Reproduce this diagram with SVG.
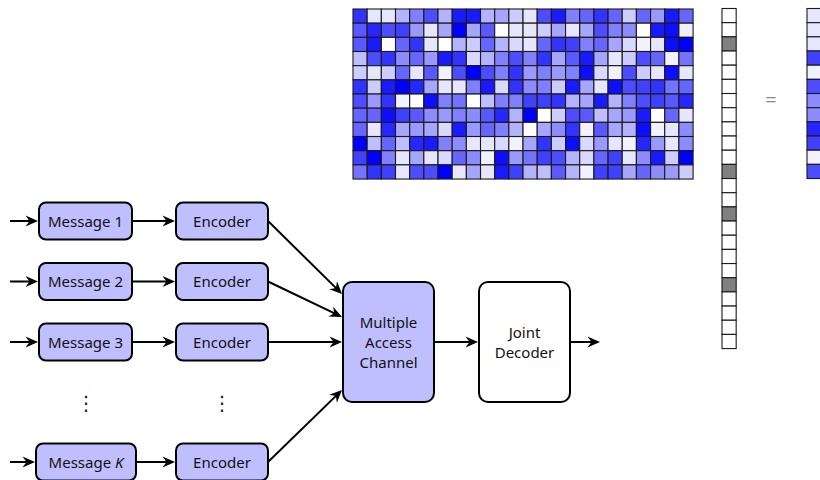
<svg xmlns="http://www.w3.org/2000/svg" width="820" height="480" viewBox="0 0 820 480">
<style>
.c rect{stroke:#1a1a1a;stroke-width:1.1}
.k0{fill:#FFFFFF}.k1{fill:#F2F2FF}.k2{fill:#E6E6FF}.k3{fill:#D9D9FF}.k4{fill:#CCCCFF}.k5{fill:#BFBFFF}.k6{fill:#B3B3FF}.k7{fill:#A6A6FF}.k8{fill:#9999FF}.k9{fill:#8C8CFF}.k10{fill:#8080FF}.k11{fill:#7373FF}.k12{fill:#6666FF}.k13{fill:#5959FF}.k14{fill:#4D4DFF}.k15{fill:#4040FF}.k16{fill:#3333FF}.k17{fill:#2626FF}.k18{fill:#1A1AFF}.k19{fill:#0D0DFF}.k20{fill:#0000FF}
.g{fill:#808080}
.box{fill:#BFBFFF;stroke:#000;stroke-width:2}
.wbox{fill:#FFFFFF;stroke:#000;stroke-width:2}
.t{font-family:"Noto Sans","Liberation Sans",sans-serif;font-size:15px;fill:#111;text-anchor:middle}
.dots{font-family:"Noto Sans CJK SC","DejaVu Sans",sans-serif;font-size:20px;fill:#222;text-anchor:middle}
.eq{font-family:"Noto Sans","Liberation Sans",sans-serif;font-size:20px;fill:#888;text-anchor:middle}
.con line{stroke:#000;stroke-width:2;fill:none;marker-end:url(#ah)}
</style>
<defs>
<marker id="ah" markerUnits="userSpaceOnUse" markerWidth="16" markerHeight="14" viewBox="-14 -7 16 14" refX="-3" refY="0" orient="auto">
<path d="M0,0 L-12.5,-5.5 L-8.5,0 L-12.5,5.5 Z" fill="#000"/>
</marker>
</defs>

<g id="matrix" class="c">
<g transform="translate(353,9)">
<rect x="0" y="0" width="14.17" height="14.17" class="k16"/><rect x="14.17" y="0" width="14.17" height="14.17" class="k2"/><rect x="28.34" y="0" width="14.17" height="14.17" class="k2"/><rect x="42.51" y="0" width="14.17" height="14.17" class="k6"/><rect x="56.68" y="0" width="14.17" height="14.17" class="k10"/><rect x="70.85" y="0" width="14.17" height="14.17" class="k14"/><rect x="85.02" y="0" width="14.17" height="14.17" class="k6"/><rect x="99.19" y="0" width="14.17" height="14.17" class="k18"/><rect x="113.36" y="0" width="14.17" height="14.17" class="k18"/><rect x="127.53" y="0" width="14.17" height="14.17" class="k6"/><rect x="141.7" y="0" width="14.17" height="14.17" class="k7"/><rect x="155.87" y="0" width="14.17" height="14.17" class="k4"/><rect x="170.04" y="0" width="14.17" height="14.17" class="k2"/><rect x="184.21" y="0" width="14.17" height="14.17" class="k14"/><rect x="198.38" y="0" width="14.17" height="14.17" class="k18"/><rect x="212.55" y="0" width="14.17" height="14.17" class="k10"/><rect x="226.72" y="0" width="14.17" height="14.17" class="k12"/><rect x="240.89" y="0" width="14.17" height="14.17" class="k16"/><rect x="255.06" y="0" width="14.17" height="14.17" class="k12"/><rect x="269.23" y="0" width="14.17" height="14.17" class="k4"/><rect x="283.4" y="0" width="14.17" height="14.17" class="k12"/><rect x="297.57" y="0" width="14.17" height="14.17" class="k8"/><rect x="311.74" y="0" width="14.17" height="14.17" class="k18"/><rect x="325.91" y="0" width="14.17" height="14.17" class="k12"/>
</g>
<g transform="translate(353,23.17)">
<rect x="0" y="0" width="14.17" height="14.17" class="k13"/><rect x="14.17" y="0" width="14.17" height="14.17" class="k17"/><rect x="28.34" y="0" width="14.17" height="14.17" class="k14"/><rect x="42.51" y="0" width="14.17" height="14.17" class="k15"/><rect x="56.68" y="0" width="14.17" height="14.17" class="k8"/><rect x="70.85" y="0" width="14.17" height="14.17" class="k2"/><rect x="85.02" y="0" width="14.17" height="14.17" class="k7"/><rect x="99.19" y="0" width="14.17" height="14.17" class="k20"/><rect x="113.36" y="0" width="14.17" height="14.17" class="k7"/><rect x="127.53" y="0" width="14.17" height="14.17" class="k13"/><rect x="141.7" y="0" width="14.17" height="14.17" class="k0"/><rect x="155.87" y="0" width="14.17" height="14.17" class="k2"/><rect x="170.04" y="0" width="14.17" height="14.17" class="k2"/><rect x="184.21" y="0" width="14.17" height="14.17" class="k4"/><rect x="198.38" y="0" width="14.17" height="14.17" class="k7"/><rect x="212.55" y="0" width="14.17" height="14.17" class="k2"/><rect x="226.72" y="0" width="14.17" height="14.17" class="k7"/><rect x="240.89" y="0" width="14.17" height="14.17" class="k14"/><rect x="255.06" y="0" width="14.17" height="14.17" class="k10"/><rect x="269.23" y="0" width="14.17" height="14.17" class="k9"/><rect x="283.4" y="0" width="14.17" height="14.17" class="k0"/><rect x="297.57" y="0" width="14.17" height="14.17" class="k18"/><rect x="311.74" y="0" width="14.17" height="14.17" class="k19"/><rect x="325.91" y="0" width="14.17" height="14.17" class="k1"/>
</g>
<g transform="translate(353,37.34)">
<rect x="0" y="0" width="14.17" height="14.17" class="k13"/><rect x="14.17" y="0" width="14.17" height="14.17" class="k18"/><rect x="28.34" y="0" width="14.17" height="14.17" class="k0"/><rect x="42.51" y="0" width="14.17" height="14.17" class="k12"/><rect x="56.68" y="0" width="14.17" height="14.17" class="k16"/><rect x="70.85" y="0" width="14.17" height="14.17" class="k2"/><rect x="85.02" y="0" width="14.17" height="14.17" class="k0"/><rect x="99.19" y="0" width="14.17" height="14.17" class="k6"/><rect x="113.36" y="0" width="14.17" height="14.17" class="k4"/><rect x="127.53" y="0" width="14.17" height="14.17" class="k12"/><rect x="141.7" y="0" width="14.17" height="14.17" class="k6"/><rect x="155.87" y="0" width="14.17" height="14.17" class="k3"/><rect x="170.04" y="0" width="14.17" height="14.17" class="k2"/><rect x="184.21" y="0" width="14.17" height="14.17" class="k12"/><rect x="198.38" y="0" width="14.17" height="14.17" class="k16"/><rect x="212.55" y="0" width="14.17" height="14.17" class="k15"/><rect x="226.72" y="0" width="14.17" height="14.17" class="k10"/><rect x="240.89" y="0" width="14.17" height="14.17" class="k12"/><rect x="255.06" y="0" width="14.17" height="14.17" class="k7"/><rect x="269.23" y="0" width="14.17" height="14.17" class="k3"/><rect x="283.4" y="0" width="14.17" height="14.17" class="k1"/><rect x="297.57" y="0" width="14.17" height="14.17" class="k2"/><rect x="311.74" y="0" width="14.17" height="14.17" class="k19"/><rect x="325.91" y="0" width="14.17" height="14.17" class="k20"/>
</g>
<g transform="translate(353,51.51)">
<rect x="0" y="0" width="14.17" height="14.17" class="k5"/><rect x="14.17" y="0" width="14.17" height="14.17" class="k14"/><rect x="28.34" y="0" width="14.17" height="14.17" class="k16"/><rect x="42.51" y="0" width="14.17" height="14.17" class="k9"/><rect x="56.68" y="0" width="14.17" height="14.17" class="k12"/><rect x="70.85" y="0" width="14.17" height="14.17" class="k8"/><rect x="85.02" y="0" width="14.17" height="14.17" class="k18"/><rect x="99.19" y="0" width="14.17" height="14.17" class="k16"/><rect x="113.36" y="0" width="14.17" height="14.17" class="k3"/><rect x="127.53" y="0" width="14.17" height="14.17" class="k6"/><rect x="141.7" y="0" width="14.17" height="14.17" class="k10"/><rect x="155.87" y="0" width="14.17" height="14.17" class="k14"/><rect x="170.04" y="0" width="14.17" height="14.17" class="k10"/><rect x="184.21" y="0" width="14.17" height="14.17" class="k16"/><rect x="198.38" y="0" width="14.17" height="14.17" class="k7"/><rect x="212.55" y="0" width="14.17" height="14.17" class="k13"/><rect x="226.72" y="0" width="14.17" height="14.17" class="k18"/><rect x="240.89" y="0" width="14.17" height="14.17" class="k7"/><rect x="255.06" y="0" width="14.17" height="14.17" class="k2"/><rect x="269.23" y="0" width="14.17" height="14.17" class="k4"/><rect x="283.4" y="0" width="14.17" height="14.17" class="k14"/><rect x="297.57" y="0" width="14.17" height="14.17" class="k12"/><rect x="311.74" y="0" width="14.17" height="14.17" class="k1"/><rect x="325.91" y="0" width="14.17" height="14.17" class="k11"/>
</g>
<g transform="translate(353,65.68)">
<rect x="0" y="0" width="14.17" height="14.17" class="k4"/><rect x="14.17" y="0" width="14.17" height="14.17" class="k2"/><rect x="28.34" y="0" width="14.17" height="14.17" class="k4"/><rect x="42.51" y="0" width="14.17" height="14.17" class="k12"/><rect x="56.68" y="0" width="14.17" height="14.17" class="k2"/><rect x="70.85" y="0" width="14.17" height="14.17" class="k13"/><rect x="85.02" y="0" width="14.17" height="14.17" class="k1"/><rect x="99.19" y="0" width="14.17" height="14.17" class="k14"/><rect x="113.36" y="0" width="14.17" height="14.17" class="k20"/><rect x="127.53" y="0" width="14.17" height="14.17" class="k14"/><rect x="141.7" y="0" width="14.17" height="14.17" class="k10"/><rect x="155.87" y="0" width="14.17" height="14.17" class="k16"/><rect x="170.04" y="0" width="14.17" height="14.17" class="k8"/><rect x="184.21" y="0" width="14.17" height="14.17" class="k10"/><rect x="198.38" y="0" width="14.17" height="14.17" class="k8"/><rect x="212.55" y="0" width="14.17" height="14.17" class="k10"/><rect x="226.72" y="0" width="14.17" height="14.17" class="k19"/><rect x="240.89" y="0" width="14.17" height="14.17" class="k3"/><rect x="255.06" y="0" width="14.17" height="14.17" class="k1"/><rect x="269.23" y="0" width="14.17" height="14.17" class="k14"/><rect x="283.4" y="0" width="14.17" height="14.17" class="k4"/><rect x="297.57" y="0" width="14.17" height="14.17" class="k2"/><rect x="311.74" y="0" width="14.17" height="14.17" class="k19"/><rect x="325.91" y="0" width="14.17" height="14.17" class="k2"/>
</g>
<g transform="translate(353,79.85)">
<rect x="0" y="0" width="14.17" height="14.17" class="k16"/><rect x="14.17" y="0" width="14.17" height="14.17" class="k4"/><rect x="28.34" y="0" width="14.17" height="14.17" class="k18"/><rect x="42.51" y="0" width="14.17" height="14.17" class="k20"/><rect x="56.68" y="0" width="14.17" height="14.17" class="k17"/><rect x="70.85" y="0" width="14.17" height="14.17" class="k7"/><rect x="85.02" y="0" width="14.17" height="14.17" class="k2"/><rect x="99.19" y="0" width="14.17" height="14.17" class="k2"/><rect x="113.36" y="0" width="14.17" height="14.17" class="k10"/><rect x="127.53" y="0" width="14.17" height="14.17" class="k18"/><rect x="141.7" y="0" width="14.17" height="14.17" class="k3"/><rect x="155.87" y="0" width="14.17" height="14.17" class="k16"/><rect x="170.04" y="0" width="14.17" height="14.17" class="k9"/><rect x="184.21" y="0" width="14.17" height="14.17" class="k10"/><rect x="198.38" y="0" width="14.17" height="14.17" class="k4"/><rect x="212.55" y="0" width="14.17" height="14.17" class="k18"/><rect x="226.72" y="0" width="14.17" height="14.17" class="k7"/><rect x="240.89" y="0" width="14.17" height="14.17" class="k2"/><rect x="255.06" y="0" width="14.17" height="14.17" class="k19"/><rect x="269.23" y="0" width="14.17" height="14.17" class="k14"/><rect x="283.4" y="0" width="14.17" height="14.17" class="k15"/><rect x="297.57" y="0" width="14.17" height="14.17" class="k16"/><rect x="311.74" y="0" width="14.17" height="14.17" class="k11"/><rect x="325.91" y="0" width="14.17" height="14.17" class="k12"/>
</g>
<g transform="translate(353,94.02)">
<rect x="0" y="0" width="14.17" height="14.17" class="k14"/><rect x="14.17" y="0" width="14.17" height="14.17" class="k8"/><rect x="28.34" y="0" width="14.17" height="14.17" class="k16"/><rect x="42.51" y="0" width="14.17" height="14.17" class="k1"/><rect x="56.68" y="0" width="14.17" height="14.17" class="k0"/><rect x="70.85" y="0" width="14.17" height="14.17" class="k19"/><rect x="85.02" y="0" width="14.17" height="14.17" class="k10"/><rect x="99.19" y="0" width="14.17" height="14.17" class="k11"/><rect x="113.36" y="0" width="14.17" height="14.17" class="k0"/><rect x="127.53" y="0" width="14.17" height="14.17" class="k5"/><rect x="141.7" y="0" width="14.17" height="14.17" class="k10"/><rect x="155.87" y="0" width="14.17" height="14.17" class="k10"/><rect x="170.04" y="0" width="14.17" height="14.17" class="k15"/><rect x="184.21" y="0" width="14.17" height="14.17" class="k15"/><rect x="198.38" y="0" width="14.17" height="14.17" class="k16"/><rect x="212.55" y="0" width="14.17" height="14.17" class="k6"/><rect x="226.72" y="0" width="14.17" height="14.17" class="k7"/><rect x="240.89" y="0" width="14.17" height="14.17" class="k18"/><rect x="255.06" y="0" width="14.17" height="14.17" class="k6"/><rect x="269.23" y="0" width="14.17" height="14.17" class="k10"/><rect x="283.4" y="0" width="14.17" height="14.17" class="k14"/><rect x="297.57" y="0" width="14.17" height="14.17" class="k15"/><rect x="311.74" y="0" width="14.17" height="14.17" class="k13"/><rect x="325.91" y="0" width="14.17" height="14.17" class="k17"/>
</g>
<g transform="translate(353,108.19)">
<rect x="0" y="0" width="14.17" height="14.17" class="k12"/><rect x="14.17" y="0" width="14.17" height="14.17" class="k12"/><rect x="28.34" y="0" width="14.17" height="14.17" class="k19"/><rect x="42.51" y="0" width="14.17" height="14.17" class="k15"/><rect x="56.68" y="0" width="14.17" height="14.17" class="k13"/><rect x="70.85" y="0" width="14.17" height="14.17" class="k9"/><rect x="85.02" y="0" width="14.17" height="14.17" class="k8"/><rect x="99.19" y="0" width="14.17" height="14.17" class="k10"/><rect x="113.36" y="0" width="14.17" height="14.17" class="k9"/><rect x="127.53" y="0" width="14.17" height="14.17" class="k13"/><rect x="141.7" y="0" width="14.17" height="14.17" class="k17"/><rect x="155.87" y="0" width="14.17" height="14.17" class="k6"/><rect x="170.04" y="0" width="14.17" height="14.17" class="k20"/><rect x="184.21" y="0" width="14.17" height="14.17" class="k0"/><rect x="198.38" y="0" width="14.17" height="14.17" class="k4"/><rect x="212.55" y="0" width="14.17" height="14.17" class="k14"/><rect x="226.72" y="0" width="14.17" height="14.17" class="k13"/><rect x="240.89" y="0" width="14.17" height="14.17" class="k5"/><rect x="255.06" y="0" width="14.17" height="14.17" class="k7"/><rect x="269.23" y="0" width="14.17" height="14.17" class="k8"/><rect x="283.4" y="0" width="14.17" height="14.17" class="k18"/><rect x="297.57" y="0" width="14.17" height="14.17" class="k0"/><rect x="311.74" y="0" width="14.17" height="14.17" class="k12"/><rect x="325.91" y="0" width="14.17" height="14.17" class="k2"/>
</g>
<g transform="translate(353,122.36)">
<rect x="0" y="0" width="14.17" height="14.17" class="k12"/><rect x="14.17" y="0" width="14.17" height="14.17" class="k2"/><rect x="28.34" y="0" width="14.17" height="14.17" class="k17"/><rect x="42.51" y="0" width="14.17" height="14.17" class="k7"/><rect x="56.68" y="0" width="14.17" height="14.17" class="k8"/><rect x="70.85" y="0" width="14.17" height="14.17" class="k7"/><rect x="85.02" y="0" width="14.17" height="14.17" class="k3"/><rect x="99.19" y="0" width="14.17" height="14.17" class="k18"/><rect x="113.36" y="0" width="14.17" height="14.17" class="k8"/><rect x="127.53" y="0" width="14.17" height="14.17" class="k12"/><rect x="141.7" y="0" width="14.17" height="14.17" class="k10"/><rect x="155.87" y="0" width="14.17" height="14.17" class="k6"/><rect x="170.04" y="0" width="14.17" height="14.17" class="k0"/><rect x="184.21" y="0" width="14.17" height="14.17" class="k7"/><rect x="198.38" y="0" width="14.17" height="14.17" class="k9"/><rect x="212.55" y="0" width="14.17" height="14.17" class="k16"/><rect x="226.72" y="0" width="14.17" height="14.17" class="k1"/><rect x="240.89" y="0" width="14.17" height="14.17" class="k13"/><rect x="255.06" y="0" width="14.17" height="14.17" class="k7"/><rect x="269.23" y="0" width="14.17" height="14.17" class="k6"/><rect x="283.4" y="0" width="14.17" height="14.17" class="k19"/><rect x="297.57" y="0" width="14.17" height="14.17" class="k1"/><rect x="311.74" y="0" width="14.17" height="14.17" class="k2"/><rect x="325.91" y="0" width="14.17" height="14.17" class="k9"/>
</g>
<g transform="translate(353,136.53)">
<rect x="0" y="0" width="14.17" height="14.17" class="k20"/><rect x="14.17" y="0" width="14.17" height="14.17" class="k5"/><rect x="28.34" y="0" width="14.17" height="14.17" class="k12"/><rect x="42.51" y="0" width="14.17" height="14.17" class="k5"/><rect x="56.68" y="0" width="14.17" height="14.17" class="k17"/><rect x="70.85" y="0" width="14.17" height="14.17" class="k18"/><rect x="85.02" y="0" width="14.17" height="14.17" class="k10"/><rect x="99.19" y="0" width="14.17" height="14.17" class="k9"/><rect x="113.36" y="0" width="14.17" height="14.17" class="k2"/><rect x="127.53" y="0" width="14.17" height="14.17" class="k2"/><rect x="141.7" y="0" width="14.17" height="14.17" class="k3"/><rect x="155.87" y="0" width="14.17" height="14.17" class="k1"/><rect x="170.04" y="0" width="14.17" height="14.17" class="k7"/><rect x="184.21" y="0" width="14.17" height="14.17" class="k16"/><rect x="198.38" y="0" width="14.17" height="14.17" class="k4"/><rect x="212.55" y="0" width="14.17" height="14.17" class="k19"/><rect x="226.72" y="0" width="14.17" height="14.17" class="k3"/><rect x="240.89" y="0" width="14.17" height="14.17" class="k8"/><rect x="255.06" y="0" width="14.17" height="14.17" class="k2"/><rect x="269.23" y="0" width="14.17" height="14.17" class="k1"/><rect x="283.4" y="0" width="14.17" height="14.17" class="k17"/><rect x="297.57" y="0" width="14.17" height="14.17" class="k8"/><rect x="311.74" y="0" width="14.17" height="14.17" class="k2"/><rect x="325.91" y="0" width="14.17" height="14.17" class="k9"/>
</g>
<g transform="translate(353,150.7)">
<rect x="0" y="0" width="14.17" height="14.17" class="k15"/><rect x="14.17" y="0" width="14.17" height="14.17" class="k20"/><rect x="28.34" y="0" width="14.17" height="14.17" class="k10"/><rect x="42.51" y="0" width="14.17" height="14.17" class="k2"/><rect x="56.68" y="0" width="14.17" height="14.17" class="k7"/><rect x="70.85" y="0" width="14.17" height="14.17" class="k2"/><rect x="85.02" y="0" width="14.17" height="14.17" class="k3"/><rect x="99.19" y="0" width="14.17" height="14.17" class="k12"/><rect x="113.36" y="0" width="14.17" height="14.17" class="k9"/><rect x="127.53" y="0" width="14.17" height="14.17" class="k1"/><rect x="141.7" y="0" width="14.17" height="14.17" class="k19"/><rect x="155.87" y="0" width="14.17" height="14.17" class="k8"/><rect x="170.04" y="0" width="14.17" height="14.17" class="k11"/><rect x="184.21" y="0" width="14.17" height="14.17" class="k15"/><rect x="198.38" y="0" width="14.17" height="14.17" class="k14"/><rect x="212.55" y="0" width="14.17" height="14.17" class="k6"/><rect x="226.72" y="0" width="14.17" height="14.17" class="k3"/><rect x="240.89" y="0" width="14.17" height="14.17" class="k12"/><rect x="255.06" y="0" width="14.17" height="14.17" class="k15"/><rect x="269.23" y="0" width="14.17" height="14.17" class="k2"/><rect x="283.4" y="0" width="14.17" height="14.17" class="k9"/><rect x="297.57" y="0" width="14.17" height="14.17" class="k18"/><rect x="311.74" y="0" width="14.17" height="14.17" class="k4"/><rect x="325.91" y="0" width="14.17" height="14.17" class="k20"/>
</g>
<g transform="translate(353,164.87)">
<rect x="0" y="0" width="14.17" height="14.17" class="k11"/><rect x="14.17" y="0" width="14.17" height="14.17" class="k16"/><rect x="28.34" y="0" width="14.17" height="14.17" class="k15"/><rect x="42.51" y="0" width="14.17" height="14.17" class="k2"/><rect x="56.68" y="0" width="14.17" height="14.17" class="k14"/><rect x="70.85" y="0" width="14.17" height="14.17" class="k14"/><rect x="85.02" y="0" width="14.17" height="14.17" class="k20"/><rect x="99.19" y="0" width="14.17" height="14.17" class="k2"/><rect x="113.36" y="0" width="14.17" height="14.17" class="k7"/><rect x="127.53" y="0" width="14.17" height="14.17" class="k2"/><rect x="141.7" y="0" width="14.17" height="14.17" class="k18"/><rect x="155.87" y="0" width="14.17" height="14.17" class="k15"/><rect x="170.04" y="0" width="14.17" height="14.17" class="k6"/><rect x="184.21" y="0" width="14.17" height="14.17" class="k5"/><rect x="198.38" y="0" width="14.17" height="14.17" class="k13"/><rect x="212.55" y="0" width="14.17" height="14.17" class="k6"/><rect x="226.72" y="0" width="14.17" height="14.17" class="k1"/><rect x="240.89" y="0" width="14.17" height="14.17" class="k15"/><rect x="255.06" y="0" width="14.17" height="14.17" class="k15"/><rect x="269.23" y="0" width="14.17" height="14.17" class="k7"/><rect x="283.4" y="0" width="14.17" height="14.17" class="k12"/><rect x="297.57" y="0" width="14.17" height="14.17" class="k9"/><rect x="311.74" y="0" width="14.17" height="14.17" class="k8"/><rect x="325.91" y="0" width="14.17" height="14.17" class="k4"/>
</g>
</g>

<g id="vector" class="c" transform="translate(722,8.5)">
<rect x="0" y="0" width="14.17" height="14.17" class="k0"/><rect x="0" y="14.17" width="14.17" height="14.17" class="k0"/><rect x="0" y="28.34" width="14.17" height="14.17" class="g"/><rect x="0" y="42.51" width="14.17" height="14.17" class="k0"/><rect x="0" y="56.68" width="14.17" height="14.17" class="k0"/><rect x="0" y="70.85" width="14.17" height="14.17" class="k0"/><rect x="0" y="85.02" width="14.17" height="14.17" class="k0"/><rect x="0" y="99.19" width="14.17" height="14.17" class="k0"/><rect x="0" y="113.36" width="14.17" height="14.17" class="k0"/><rect x="0" y="127.53" width="14.17" height="14.17" class="k0"/><rect x="0" y="141.7" width="14.17" height="14.17" class="k0"/><rect x="0" y="155.87" width="14.17" height="14.17" class="g"/><rect x="0" y="170.04" width="14.17" height="14.17" class="k0"/><rect x="0" y="184.21" width="14.17" height="14.17" class="k0"/><rect x="0" y="198.38" width="14.17" height="14.17" class="g"/><rect x="0" y="212.55" width="14.17" height="14.17" class="k0"/><rect x="0" y="226.72" width="14.17" height="14.17" class="k0"/><rect x="0" y="240.89" width="14.17" height="14.17" class="k0"/><rect x="0" y="255.06" width="14.17" height="14.17" class="k0"/><rect x="0" y="269.23" width="14.17" height="14.17" class="g"/><rect x="0" y="283.4" width="14.17" height="14.17" class="k0"/><rect x="0" y="297.57" width="14.17" height="14.17" class="k0"/><rect x="0" y="311.74" width="14.17" height="14.17" class="k0"/><rect x="0" y="325.91" width="14.17" height="14.17" class="k0"/>
</g>

<g id="equals"><text x="771" y="107" class="eq">=</text></g>

<g id="result" class="c" transform="translate(807,8.5)">
<rect x="0" y="0" width="14.17" height="14.17" class="k2"/><rect x="0" y="14.17" width="14.17" height="14.17" class="k2"/><rect x="0" y="28.34" width="14.17" height="14.17" class="k2"/><rect x="0" y="42.51" width="14.17" height="14.17" class="k15"/><rect x="0" y="56.68" width="14.17" height="14.17" class="k1"/><rect x="0" y="70.85" width="14.17" height="14.17" class="k14"/><rect x="0" y="85.02" width="14.17" height="14.17" class="k9"/><rect x="0" y="99.19" width="14.17" height="14.17" class="k9"/><rect x="0" y="113.36" width="14.17" height="14.17" class="k17"/><rect x="0" y="127.53" width="14.17" height="14.17" class="k15"/><rect x="0" y="141.7" width="14.17" height="14.17" class="k1"/><rect x="0" y="155.87" width="14.17" height="14.17" class="k14"/>
</g>

<g id="msg1"><rect x="39" y="202.5" width="93" height="37" rx="7" class="box"/><text x="85.5" y="226.5" class="t">Message 1</text></g>
<g id="msg2"><rect x="39" y="263" width="93" height="37" rx="7" class="box"/><text x="85.5" y="287" class="t">Message 2</text></g>
<g id="msg3"><rect x="39" y="323.5" width="93" height="37" rx="7" class="box"/><text x="85.5" y="347.5" class="t">Message 3</text></g>
<g id="msgK"><rect x="36" y="443.5" width="100" height="37" rx="7" class="box"/><text x="86" y="467.5" class="t">Message <tspan font-style="italic">K</tspan></text></g>
<g id="enc1"><rect x="176" y="202.5" width="92" height="37" rx="7" class="box"/><text x="222" y="226.5" class="t">Encoder</text></g>
<g id="enc2"><rect x="176" y="263" width="92" height="37" rx="7" class="box"/><text x="222" y="287" class="t">Encoder</text></g>
<g id="enc3"><rect x="176" y="323.5" width="92" height="37" rx="7" class="box"/><text x="222" y="347.5" class="t">Encoder</text></g>
<g id="encK"><rect x="176" y="443.5" width="92" height="37" rx="7" class="box"/><text x="222" y="467.5" class="t">Encoder</text></g>
<g id="vdots1"><text x="86" y="409.5" class="dots">⋮</text></g>
<g id="vdots2"><text x="222" y="409.5" class="dots">⋮</text></g>
<g id="mac"><rect x="343" y="282" width="91" height="120" rx="9" class="box"/><text x="388.5" y="328" class="t">Multiple</text><text x="388.5" y="348" class="t">Access</text><text x="388.5" y="367.5" class="t">Channel</text></g>
<g id="decoder"><rect x="479" y="282" width="91" height="120" rx="9" class="wbox"/><text x="524.5" y="338" class="t">Joint</text><text x="524.5" y="357.5" class="t">Decoder</text></g>

<g id="connectors" class="con">
<line x1="10" y1="221" x2="35" y2="221"/>
<line x1="10" y1="281.5" x2="35" y2="281.5"/>
<line x1="10" y1="342" x2="35" y2="342"/>
<line x1="10" y1="462" x2="32" y2="462"/>
<line x1="132" y1="221" x2="172" y2="221"/>
<line x1="132" y1="281.5" x2="172" y2="281.5"/>
<line x1="132" y1="342" x2="172" y2="342"/>
<line x1="136" y1="462" x2="172" y2="462"/>
<line x1="268" y1="221" x2="339.9" y2="291.9"/>
<line x1="268" y1="281.5" x2="339.3" y2="315.7"/>
<line x1="268" y1="342" x2="339" y2="342"/>
<line x1="268" y1="462" x2="339.85" y2="392.1"/>
<line x1="434" y1="342" x2="475" y2="342"/>
<line x1="570" y1="342" x2="597" y2="342"/>
</g>
</svg>
